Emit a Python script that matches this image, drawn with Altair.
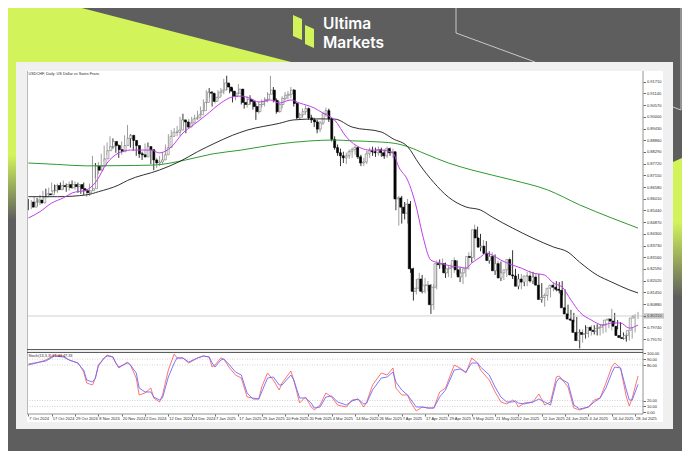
import json
import pandas as pd
import altair as alt

# ---------------- data ----------------
chart_title = "USDCHF, Daily: US Dollar vs Swiss Franc"
stoch_title = "Stoch(13,3,3) 61.44 47.33"
brand_top = "Ultima"
brand_bottom = "Markets"

first_open = 0.8585
close = [
    0.8560, 0.8585, 0.8595, 0.8580, 0.8610, 0.8625, 0.8620, 0.8640, 0.8665, 0.8645,
    0.8665, 0.8660, 0.8670, 0.8655, 0.8670, 0.8660, 0.8670, 0.8650, 0.8640, 0.8630,
    0.8640, 0.8650, 0.8760, 0.8740, 0.8760, 0.8795, 0.8835, 0.8855, 0.8880, 0.8860,
    0.8840, 0.8830, 0.8860, 0.8895, 0.8910, 0.8885, 0.8860, 0.8820, 0.8815, 0.8805,
    0.8855, 0.8840, 0.8790, 0.8775, 0.8780, 0.8790, 0.8815, 0.8850, 0.8905, 0.8925,
    0.8925, 0.8935, 0.8985, 0.8975, 0.8950, 0.8970, 0.8990, 0.8995, 0.9010, 0.9030,
    0.9070, 0.9120, 0.9115, 0.9075, 0.9095, 0.9120, 0.9130, 0.9165, 0.9145, 0.9125,
    0.9100, 0.9115, 0.9135, 0.9070, 0.9060, 0.9085, 0.9075, 0.9050, 0.9025, 0.9060,
    0.9075, 0.9085, 0.9110, 0.9130, 0.9080, 0.9025, 0.9060, 0.9090, 0.9105, 0.9110,
    0.9130, 0.9065, 0.8995, 0.9010, 0.9025, 0.9040, 0.8995, 0.8985, 0.8975, 0.8940,
    0.8970, 0.9015, 0.9030, 0.8990, 0.8890, 0.8850, 0.8825, 0.8810, 0.8800, 0.8810,
    0.8830, 0.8840, 0.8850, 0.8805, 0.8775, 0.8780, 0.8820, 0.8835, 0.8830, 0.8825,
    0.8840, 0.8825, 0.8810, 0.8845, 0.8825, 0.8830, 0.8600, 0.8605, 0.8560, 0.8530,
    0.8575, 0.8260, 0.8150, 0.8165, 0.8210, 0.8150, 0.8180, 0.8180, 0.8085, 0.8170,
    0.8285, 0.8280, 0.8285, 0.8240, 0.8260, 0.8265, 0.8300, 0.8255, 0.8220, 0.8240,
    0.8260, 0.8320, 0.8315, 0.8450, 0.8410, 0.8365, 0.8370, 0.8335, 0.8300, 0.8320,
    0.8250, 0.8285, 0.8215, 0.8240, 0.8255, 0.8305, 0.8230, 0.8225, 0.8175, 0.8210,
    0.8195, 0.8225, 0.8225, 0.8200, 0.8220, 0.8180, 0.8110, 0.8120, 0.8130, 0.8165,
    0.8180, 0.8170, 0.8160, 0.8155, 0.8070, 0.8040, 0.8015, 0.8010, 0.7950, 0.7910,
    0.7950, 0.7940, 0.7945, 0.7975, 0.7960, 0.7955, 0.7970, 0.7975, 0.7985, 0.8010,
    0.8015, 0.8005, 0.7980, 0.7935, 0.7925, 0.7920, 0.7935, 0.7960, 0.8020, 0.8030,
]
high = [
    0.8600, 0.8595, 0.8610, 0.8605, 0.8620, 0.8640, 0.8650, 0.8655, 0.8680, 0.8670,
    0.8675, 0.8680, 0.8690, 0.8675, 0.8685, 0.8690, 0.8685, 0.8680, 0.8670, 0.8680,
    0.8650, 0.8675, 0.8810, 0.8775, 0.8780, 0.8820, 0.8860, 0.8875, 0.8905, 0.8895,
    0.8875, 0.8865, 0.8880, 0.8910, 0.8960, 0.8915, 0.8900, 0.8875, 0.8835, 0.8830,
    0.8870, 0.8875, 0.8855, 0.8800, 0.8800, 0.8810, 0.8830, 0.8865, 0.8915, 0.8935,
    0.8945, 0.8955, 0.9000, 0.9015, 0.8985, 0.8990, 0.9000, 0.9010, 0.9030, 0.9050,
    0.9085, 0.9130, 0.9140, 0.9125, 0.9110, 0.9130, 0.9140, 0.9185, 0.9200, 0.9160,
    0.9140, 0.9125, 0.9160, 0.9135, 0.9095, 0.9100, 0.9105, 0.9085, 0.9065, 0.9075,
    0.9085, 0.9095, 0.9120, 0.9200, 0.9145, 0.9090, 0.9075, 0.9100, 0.9120, 0.9125,
    0.9145, 0.9135, 0.9070, 0.9020, 0.9040, 0.9055, 0.9045, 0.9010, 0.8995, 0.8985,
    0.8980, 0.9025, 0.9045, 0.9040, 0.8995, 0.8905, 0.8865, 0.8845, 0.8830, 0.8825,
    0.8840, 0.8850, 0.8860, 0.8855, 0.8815, 0.8800, 0.8835, 0.8850, 0.8855, 0.8850,
    0.8855, 0.8850, 0.8840, 0.8855, 0.8850, 0.8845, 0.8830, 0.8615, 0.8615, 0.8585,
    0.8600, 0.8590, 0.8265, 0.8210, 0.8240, 0.8230, 0.8215, 0.8200, 0.8185, 0.8185,
    0.8300, 0.8305, 0.8310, 0.8290, 0.8275, 0.8285, 0.8315, 0.8300, 0.8265, 0.8260,
    0.8290, 0.8340, 0.8345, 0.8475, 0.8465, 0.8430, 0.8400, 0.8395, 0.8345, 0.8340,
    0.8330, 0.8300, 0.8295, 0.8255, 0.8275, 0.8315, 0.8350, 0.8260, 0.8235, 0.8235,
    0.8225, 0.8245, 0.8250, 0.8245, 0.8235, 0.8235, 0.8190, 0.8140, 0.8160, 0.8180,
    0.8195, 0.8200, 0.8195, 0.8200, 0.8160, 0.8085, 0.8060, 0.8045, 0.8025, 0.7965,
    0.7965, 0.7985, 0.7960, 0.7985, 0.7985, 0.7990, 0.7985, 0.7990, 0.7995, 0.8020,
    0.8065, 0.8045, 0.8010, 0.8000, 0.7950, 0.7945, 0.7955, 0.7975, 0.8040, 0.8050,
]
low = [
    0.8545, 0.8550, 0.8570, 0.8565, 0.8570, 0.8600, 0.8610, 0.8615, 0.8635, 0.8630,
    0.8630, 0.8645, 0.8645, 0.8635, 0.8640, 0.8650, 0.8645, 0.8630, 0.8625, 0.8620,
    0.8610, 0.8615, 0.8640, 0.8700, 0.8720, 0.8740, 0.8780, 0.8815, 0.8840, 0.8845,
    0.8825, 0.8800, 0.8815, 0.8845, 0.8870, 0.8850, 0.8835, 0.8810, 0.8800, 0.8790,
    0.8800, 0.8820, 0.8770, 0.8740, 0.8750, 0.8760, 0.8770, 0.8805, 0.8840, 0.8880,
    0.8905, 0.8905, 0.8905, 0.8955, 0.8920, 0.8940, 0.8960, 0.8970, 0.8985, 0.9000,
    0.9025, 0.9060, 0.9095, 0.9050, 0.9065, 0.9085, 0.9100, 0.9110, 0.9130, 0.9115,
    0.9070, 0.9080, 0.9110, 0.9060, 0.9040, 0.9045, 0.9060, 0.9035, 0.8985, 0.9015,
    0.9045, 0.9050, 0.9070, 0.9110, 0.9070, 0.9015, 0.9020, 0.9040, 0.9080, 0.9085,
    0.9090, 0.9050, 0.8990, 0.8985, 0.8995, 0.9010, 0.8985, 0.8970, 0.8950, 0.8920,
    0.8925, 0.8960, 0.9000, 0.8975, 0.8880, 0.8840, 0.8810, 0.8760, 0.8775, 0.8770,
    0.8795, 0.8800, 0.8815, 0.8795, 0.8760, 0.8760, 0.8770, 0.8800, 0.8810, 0.8805,
    0.8810, 0.8805, 0.8795, 0.8800, 0.8810, 0.8800, 0.8545, 0.8470, 0.8480, 0.8500,
    0.8480, 0.8240, 0.8105, 0.8135, 0.8150, 0.8140, 0.8140, 0.8150, 0.8040, 0.8060,
    0.8160, 0.8260, 0.8260, 0.8215, 0.8220, 0.8215, 0.8240, 0.8230, 0.8195, 0.8185,
    0.8220, 0.8255, 0.8290, 0.8305, 0.8395, 0.8345, 0.8330, 0.8320, 0.8285, 0.8285,
    0.8230, 0.8240, 0.8200, 0.8205, 0.8220, 0.8250, 0.8210, 0.8200, 0.8160, 0.8160,
    0.8175, 0.8175, 0.8190, 0.8185, 0.8190, 0.8175, 0.8095, 0.8075, 0.8105, 0.8120,
    0.8150, 0.8150, 0.8140, 0.8130, 0.8060, 0.8030, 0.8005, 0.8000, 0.7935, 0.7872,
    0.7900, 0.7920, 0.7925, 0.7935, 0.7940, 0.7935, 0.7935, 0.7945, 0.7950, 0.7970,
    0.7960, 0.7990, 0.7965, 0.7925, 0.7915, 0.7905, 0.7910, 0.7920, 0.7950, 0.8015,
]

ma_fast_idx = [0, 4, 8, 12, 15, 20, 23, 27, 31, 35, 42, 45, 49, 53, 57, 61, 66, 70, 73, 76,
               79, 83, 86, 90, 93, 98, 101, 105, 109, 114, 117, 121, 125, 127, 130, 133, 135,
               138, 141, 145, 148, 150, 152, 155, 157, 159, 162, 165, 169, 173, 177, 180, 183,
               186, 189, 193, 197, 200, 203, 206, 209]
ma_fast = [0.8507, 0.8538, 0.8580, 0.8605, 0.8629, 0.8644, 0.8680, 0.8775, 0.8824, 0.8838,
           0.8838, 0.8824, 0.8853, 0.8921, 0.8965, 0.9009, 0.9067, 0.9097, 0.9101, 0.9090,
           0.9072, 0.9082, 0.9067, 0.9082, 0.9067, 0.9043, 0.9018, 0.8984, 0.8902, 0.8848,
           0.8838, 0.8838, 0.8824, 0.8755, 0.8692, 0.8561, 0.8434, 0.8302, 0.8288, 0.8273,
           0.8268, 0.8263, 0.8288, 0.8317, 0.8336, 0.8327, 0.8302, 0.8283, 0.8263, 0.8239,
           0.8229, 0.8190, 0.8171, 0.8108, 0.8049, 0.8010, 0.7986, 0.7996, 0.7996, 0.7971,
           0.7986]

ma_mid_idx = [0, 10, 20, 24, 31, 34, 45, 52, 58, 64, 70, 75, 86, 91, 100, 105, 111, 121, 125,
              130, 134, 139, 144, 150, 155, 159, 166, 173, 180, 185, 189, 195, 200, 206, 209]
ma_mid = [0.8611, 0.8611, 0.8620, 0.8635, 0.8668, 0.8690, 0.8741, 0.8783, 0.8830, 0.8872,
          0.8910, 0.8935, 0.8968, 0.8985, 0.8990, 0.8989, 0.8950, 0.8926, 0.8893, 0.8855,
          0.8770, 0.8680, 0.8609, 0.8561, 0.8546, 0.8512, 0.8458, 0.8409, 0.8366, 0.8341,
          0.8292, 0.8229, 0.8195, 0.8157, 0.8142]

ma_slow_idx = [0, 10, 20, 30, 43, 54, 63, 73, 86, 96, 105, 111, 121, 126, 130, 136, 144, 152,
               166, 178, 189, 200, 209]
ma_slow = [0.8775, 0.8768, 0.8761, 0.8762, 0.8765, 0.8790, 0.8819, 0.8838, 0.8868, 0.8882,
           0.8887, 0.8883, 0.8877, 0.8870, 0.8855, 0.8820, 0.8775, 0.8741, 0.8692, 0.8644,
           0.8571, 0.8507, 0.8458]

stoch_idx = [0, 4, 6, 9, 12, 14, 17, 18, 19, 20, 22, 23, 24, 26, 27, 29, 30, 31, 34, 35,
             37, 38, 40, 42, 43, 45, 46, 48, 50, 51, 53, 55, 58, 60, 62, 63, 64, 66, 67, 69,
             71, 73, 75, 77, 79, 80, 82, 84, 86, 87, 90, 91, 93, 95, 97, 98, 100, 102, 104, 106,
             109, 111, 113, 115, 116, 118, 121, 123, 125, 126, 128, 130, 131, 133, 135, 137, 139,
             141, 143, 146, 148, 150, 152, 154, 155, 158, 160, 162, 164, 166, 167, 168, 170, 173,
             175, 177, 179, 181, 182, 185, 187, 189, 192, 194, 196, 198, 200, 201, 203, 205, 206,
             207, 209]
stoch_k = [81.8, 85.1, 88.5, 97.0, 95.3, 88.5, 83.4, 76.7, 68.2, 49.7,
           46.3, 58.1, 80.1, 91.9, 97.0, 93.6, 83.4, 75.0, 85.1, 80.1,
           58.1, 29.4, 32.8, 41.2, 24.3, 17.6, 29.4, 71.6, 98.6, 91.9,
           91.9, 83.4, 91.9, 95.3, 93.6, 76.7, 80.1, 91.9, 90.2, 75.0,
           63.2, 58.1, 26.0, 24.3, 22.6, 42.9, 66.6, 54.7, 37.8, 49.7,
           69.9, 54.7, 15.9, 26.0, 9.1, 4.1, 12.5, 32.8, 26.0, 12.5,
           9.1, 20.9, 22.6, 9.1, 17.6, 46.3, 66.6, 63.2, 75.0, 41.2,
           29.4, 29.4, 17.6, 2.4, 9.1, 7.4, 7.4, 34.5, 41.2, 80.1,
           75.0, 66.6, 91.9, 83.4, 71.6, 54.7, 34.5, 17.6, 14.2, 20.9,
           17.6, 9.1, 15.9, 17.6, 31.1, 12.5, 17.6, 59.8, 61.5, 42.9,
           7.4, 4.1, 9.1, 20.9, 24.3, 49.7, 76.7, 83.4, 75.0, 26.0,
           10.8, 24.3, 61.4]
stoch_d = [80.1, 85.1, 86.8, 95.3, 93.6, 88.5, 83.4, 76.7, 71.6, 54.7,
           51.4, 58.1, 78.4, 91.9, 95.3, 93.6, 83.4, 76.7, 83.4, 80.1,
           66.6, 41.2, 34.5, 34.5, 26.0, 20.9, 24.3, 59.8, 83.4, 91.9,
           91.9, 85.1, 91.9, 95.3, 93.6, 83.4, 76.7, 88.5, 90.2, 80.1,
           68.2, 63.2, 32.8, 22.6, 22.6, 34.5, 58.1, 59.8, 46.3, 46.3,
           63.2, 54.7, 24.3, 24.3, 15.9, 7.4, 9.1, 26.0, 27.7, 17.6,
           12.5, 19.3, 22.6, 14.2, 15.9, 37.8, 58.1, 59.8, 68.2, 51.4,
           37.8, 29.4, 22.6, 9.1, 9.1, 7.4, 7.4, 26.0, 37.8, 71.6,
           73.3, 68.2, 83.4, 83.4, 76.7, 63.2, 42.9, 26.0, 17.6, 17.6,
           19.3, 15.9, 14.2, 17.6, 22.6, 17.6, 12.5, 51.4, 58.1, 49.7,
           12.5, 5.7, 9.1, 17.6, 24.3, 41.2, 66.6, 76.7, 75.0, 37.8,
           20.9, 20.9, 47.3]
stoch_levels = [90, 80, 20, 10]

price_ticks = [0.7917, 0.7974, 0.8031, 0.8088, 0.8145, 0.8202, 0.8259, 0.8316, 0.8373, 0.8430,
               0.8487, 0.8544, 0.8601, 0.8658, 0.8715, 0.8772, 0.8829, 0.8886, 0.8943, 0.9000,
               0.9057, 0.9114, 0.9171]
stoch_ticks = [0, 10, 20, 80, 90, 100]
date_ticks = [0, 8, 16, 24, 32, 40, 48, 56, 64, 72, 80, 88, 96, 104, 112, 120, 128, 136, 144,
              152, 160, 168, 176, 184, 192, 200, 208]
date_labels = ["7 Oct 2024", "17 Oct 2024", "29 Oct 2024", "8 Nov 2024", "20 Nov 2024",
               "2 Dec 2024", "12 Dec 2024", "24 Dec 2024", "7 Jan 2025", "17 Jan 2025",
               "29 Jan 2025", "10 Feb 2025", "20 Feb 2025", "4 Mar 2025", "14 Mar 2025",
               "26 Mar 2025", "7 Apr 2025", "17 Apr 2025", "29 Apr 2025", "9 May 2025",
               "21 May 2025", "2 Jun 2025", "12 Jun 2025", "24 Jun 2025", "4 Jul 2025",
               "16 Jul 2025", "28 Jul 2025"]

# ---------------- tables ----------------
n = len(close)
opens = [first_open] + close[:-1]
candles = pd.DataFrame({"i": list(range(n)), "open": opens, "high": high, "low": low, "close": close})
candles["dir"] = ["up" if c >= o else "down" for o, c in zip(opens, close)]
fast_df = pd.DataFrame({"i": ma_fast_idx, "v": ma_fast})
mid_df = pd.DataFrame({"i": ma_mid_idx, "v": ma_mid})
slow_df = pd.DataFrame({"i": ma_slow_idx, "v": ma_slow})
stoch_df = pd.DataFrame({"i": stoch_idx, "k": stoch_k, "d": stoch_d})
levels_df = pd.DataFrame({"v": stoch_levels})
last_df = pd.DataFrame({"i": [n - 1], "close": [close[-1]]})
one = pd.DataFrame({"k": [0]})

# ---------------- layout / style ----------------
W, H = 616, 343
LIME = "#d2f45a"
BG = "#5e5e5e"
PANEL = "#f0f0f0"
TXT = "#2a2a2a"
FONT = "Liberation Sans"

xs = alt.Scale(domain=[-0.45, 210.7], nice=False, zero=False)
ys_p = alt.Scale(domain=[0.78692, 0.92231], range=[278, 0], nice=False, zero=False)
ys_s = alt.Scale(domain=[0, 100], range=[341.4, 282.2], nice=False, zero=False)
X = alt.X("i:Q", scale=xs, axis=None)

tiny = dict(labelFontSize=4, labelColor=TXT, labelFont=FONT, tickColor="#6a6a6a",
            domain=False, grid=False, title=None, labelOverlap=False, zindex=2)
price_axis = alt.Axis(orient="right", values=price_ticks, format=".5f", tickSize=2.5,
                      labelPadding=1, **tiny)
stoch_axis = alt.Axis(orient="right", values=stoch_ticks, format=".2f", tickSize=2.5,
                      labelPadding=1, **tiny)
date_expr = json.dumps(date_labels) + "[round(datum.value / 8)]"
date_axis = alt.Axis(orient="bottom", values=date_ticks, labelExpr=date_expr, labelAlign="left",
                     labelFlush=False, tickSize=2, labelPadding=0.5, labelOffset=0.5, **tiny)


def shape(path, **kw):
    return alt.Chart(one).mark_point(shape=path, size=4, opacity=1, **kw).encode(
        x=alt.value(0), y=alt.value(0))


def vgrad(stops):
    return alt.LinearGradient(gradient="linear",
                              stops=[alt.GradientStop(color=c, offset=o) for c, o in stops],
                              x1=0, x2=0, y1=0, y2=1)


def box_rect(x0, x1, y0, y1, color):
    return alt.Chart(one).mark_rect(color=color).encode(
        x=alt.value(x0), x2=alt.value(x1), y=alt.value(y0), y2=alt.value(y1))


# page frame (plot coordinates; plot origin at page 27,71)
surround = [box_rect(-40, 700, -90, -9, BG), box_rect(-40, -11, -9, 400, BG),
            box_rect(646, 700, -9, 400, BG), box_rect(-11, 646, 358, 400, BG)]
panel_ring = [box_rect(-11, 646, -9, 0, PANEL), box_rect(-11, 0, 0, 351, PANEL),
              box_rect(636, 646, 0, 351, PANEL), box_rect(-11, 646, 351, 358, PANEL)]

left_lime = shape("M-37,-81L-15,-81L264,-9L-11,-9L-11,169L-37,169Z", filled=True,
                  fill=vgrad([(LIME, 0), (LIME, 0.66), (BG, 0.92)]), strokeWidth=0)
right_lime = shape("M646,91L673,79L673,239L646,239Z", filled=True,
                   fill=vgrad([(LIME, 0), (LIME, 0.45), (BG, 0.92)]), strokeWidth=0)
thin_lines = shape("M429,-81L429,-38L508,-9M654,-81L654,39L646,36", filled=False,
                   stroke="#c8c8c8", strokeWidth=1)
logo_icon = shape("M266,-56L275,-52L275,-31L266,-35ZM278,-46L287,-42L287,-23L278,-27Z",
                  filled=True, fill=LIME, strokeWidth=0)
logo_1 = alt.Chart(one).mark_text(text=brand_top, align="left", baseline="alphabetic",
                                  fontSize=15.5, font="Inter", fontWeight=600, color="white").encode(
    x=alt.value(296), y=alt.value(-42.5))
logo_2 = alt.Chart(one).mark_text(text=brand_bottom, align="left", baseline="alphabetic",
                                  fontSize=15.5, font="Inter", fontWeight=600, color="white").encode(
    x=alt.value(296), y=alt.value(-23.5))


def hrule(yv, color, w=1.0):
    return alt.Chart(one).mark_rule(color=color, strokeWidth=w).encode(
        x=alt.value(0), x2=alt.value(W), y=alt.value(yv))


def vrule(xv, color, w=1.0):
    return alt.Chart(one).mark_rule(color=color, strokeWidth=w).encode(
        x=alt.value(xv), y=alt.value(0), y2=alt.value(H))


frame = [vrule(0.5, "#a8a8a8", 0.8), vrule(W, "#7a7a7a", 0.8), hrule(H, "#7a7a7a", 0.8),
         hrule(278.6, "#4a4a4a", 1.0), hrule(281.4, "#4a4a4a", 1.0)]

# ---------------- main price pane ----------------
dir_dom = ["up", "down"]
wicks = alt.Chart(candles).mark_rule(strokeWidth=0.8).encode(
    x=X, y=alt.Y("low:Q", scale=ys_p, axis=price_axis), y2="high:Q",
    color=alt.Color("dir:N", scale=alt.Scale(domain=dir_dom, range=["#858585", "#000000"]), legend=None))
bodies = alt.Chart(candles).mark_bar(size=2, strokeWidth=0.6).encode(
    x=X, y=alt.Y("open:Q", scale=ys_p, axis=None), y2="close:Q",
    fill=alt.Fill("dir:N", scale=alt.Scale(domain=dir_dom, range=["#ffffff", "#000000"]), legend=None),
    stroke=alt.Stroke("dir:N", scale=alt.Scale(domain=dir_dom, range=["#6e6e6e", "#000000"]), legend=None))


def ma(df, color, w):
    return alt.Chart(df).mark_line(color=color, strokeWidth=w, interpolate="monotone").encode(
        x=X, y=alt.Y("v:Q", scale=ys_p, axis=None))


bid = alt.Chart(last_df).mark_rule(color="#c6c6c6", strokeWidth=0.8).encode(
    y=alt.Y("close:Q", scale=ys_p, axis=None), x=alt.value(0), x2=alt.value(W))
box = alt.Chart(last_df).mark_point(shape="M0,-2.7L20,-2.7L20,2.7L0,2.7Z", size=4, filled=True,
                                    fill="#c4c4c4", opacity=1, strokeWidth=0).encode(
    x=alt.value(W + 1), y=alt.Y("close:Q", scale=ys_p, axis=None))
box_text = alt.Chart(last_df).mark_text(align="left", baseline="middle", fontSize=4, font=FONT,
                                        color="#ffffff").encode(
    x=alt.value(W + 3), y=alt.Y("close:Q", scale=ys_p, axis=None),
    text=alt.Text("close:Q", format=".5f"))

# ---------------- stochastic pane ----------------
levels = alt.Chart(levels_df).mark_rule(color="#b4b4b4", strokeWidth=0.6, strokeDash=[1, 1.5]).encode(
    y=alt.Y("v:Q", scale=ys_s, axis=stoch_axis), x=alt.value(0), x2=alt.value(W))
k_line = alt.Chart(stoch_df).mark_line(color="#ff6464", strokeWidth=0.9).encode(
    x=alt.X("i:Q", scale=xs, axis=date_axis), y=alt.Y("k:Q", scale=ys_s, axis=None))
d_line = alt.Chart(stoch_df).mark_line(color="#6a6aff", strokeWidth=0.9).encode(
    x=X, y=alt.Y("d:Q", scale=ys_s, axis=None))

# ---------------- titles ----------------
title_main = alt.Chart(one).mark_text(text=chart_title, align="left", baseline="middle",
                                      fontSize=3.8, font=FONT, color=TXT).encode(
    x=alt.value(1.5), y=alt.value(2.8))
title_stoch = alt.Chart(one).mark_text(text=stoch_title, align="left", baseline="middle",
                                       fontSize=3.8, font=FONT, color=TXT).encode(
    x=alt.value(1.5), y=alt.value(284.6))

# every layer keeps its own (identical) scales, so each axis belongs to exactly one layer
chart = alt.layer(
    *surround, left_lime, right_lime, thin_lines, logo_icon, logo_1, logo_2, *panel_ring,
    wicks, bid, bodies, ma(slow_df, "#2f9a2f", 1.0), ma(mid_df, "#1a1a1a", 0.9),
    ma(fast_df, "#bf3fe8", 1.0), box, box_text,
    levels, k_line, d_line, *frame, title_main, title_stoch
).resolve_scale(x="independent", y="independent").resolve_axis(
    x="independent", y="independent").properties(
    width=W, height=H,
    padding={"left": 19, "top": 63, "right": 39, "bottom": 41},
    autosize=alt.AutoSizeParams(type="none"),
    background="#ffffff",
).configure_view(strokeWidth=0)

chart.save("out.html", embed_options={"renderer": "svg", "actions": False})
